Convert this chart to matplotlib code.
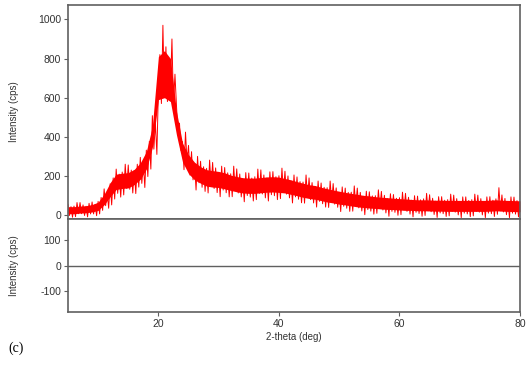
import numpy as np
import matplotlib.pyplot as plt

# шаг 0.25 градуса, от 5 до 80
theta_start = 5.0
theta_step = 0.25

# интенсивность (cps), по 4 значения на градус
intensity = [
    55, -2, 43, -11,      # 5
    46, -8, 64, 7,        # 6
    64, 7, 52, -2,        # 7
    45, -9, 60, 6,        # 8
    67, 6, 54, -3,        # 9
    70, 6, 90, 24,        # 10
    134, 48, 116, 35,     # 11
    160, 52, 190, 82,     # 12
    235, 111, 209, 92,    # 13
    220, 103, 260, 136,   # 14
    256, 132, 230, 113,   # 15
    228, 110, 260, 143,   # 16
    295, 162, 267, 141,   # 17
    332, 197, 377, 235,   # 18
    508, 337, 472, 310,   # 19
    640, 820, 570, 970,   # 20
    600, 860, 580, 800,   # 21
    650, 900, 560, 720,   # 22
    560, 420, 470, 330,   # 23
    376, 232, 424, 272,   # 24
    356, 204, 324, 180,   # 25
    262, 128, 300, 165,   # 26
    275, 142, 247, 121,   # 27
    239, 113, 281, 148,   # 28
    269, 136, 241, 115,   # 29
    216, 94, 250, 128,    # 30
    243, 114, 216, 93,    # 31
    211, 94, 250, 126,    # 32
    236, 113, 210, 93,    # 33
    185, 68, 217, 100,    # 34
    215, 92, 189, 72,     # 35
    196, 79, 235, 111,    # 36
    231, 108, 205, 88,    # 37
    189, 72, 221, 104,    # 38
    222, 99, 196, 79,     # 39
    201, 84, 240, 116,    # 40
    224, 107, 200, 88,    # 41
    174, 62, 205, 93,     # 42
    195, 81, 171, 63,     # 43
    169, 61, 205, 91,     # 44
    190, 79, 166, 62,     # 45
    145, 41, 174, 70,     # 46
    164, 58, 142, 41,     # 47
    140, 39, 174, 67,     # 48
    161, 56, 139, 40,     # 49
    116, 18, 144, 45,     # 50
    138, 35, 116, 19,     # 51
    117, 20, 149, 47,     # 52
    138, 37, 116, 21,     # 53
    96, 2, 122, 28,       # 54
    119, 20, 98, 5,       # 55
    99, 9, 129, 34,       # 56
    121, 26, 101, 11,     # 57
    84, -6, 109, 19,      # 58
    105, 14, 86, -1,      # 59
    89, 2, 117, 26,       # 60
    111, 19, 91, 5,       # 61
    76, -9, 99, 14,       # 62
    97, 8, 78, -6,        # 63
    83, -2, 111, 22,      # 64
    104, 17, 86, 3,       # 65
    71, -12, 94, 11,      # 66
    94, 7, 76, -7,        # 67
    79, -4, 107, 19,      # 68
    102, 15, 84, 1,       # 69
    70, -13, 93, 10,      # 70
    93, 6, 75, -8,        # 71
    79, -4, 107, 19,      # 72
    102, 15, 84, 1,       # 73
    70, -13, 93, 10,      # 74
    94, 7, 76, -7,        # 75
    83, 4, 140, 22,       # 76
    103, 16, 85, 2,       # 77
    70, -13, 93, 10,      # 78
    92, 5, 74, -9,        # 79
    45,                   # 80
]

# плотная часть шума: нижняя и верхняя граница, по целым градусам 5..80
core_degrees = list(range(5, 81))
core_low = [7, 7, 10, 12, 16, 24, 53, 94, 131, 136,
            139, 156, 183, 235, 346, 590, 600, 580, 410, 272,
            212, 180, 163, 148, 143, 141, 134, 126, 119, 113,
            111, 111, 114, 117, 118, 116, 113, 106, 99, 91,
            85, 81, 74, 67, 62, 56, 52, 47, 42, 39,
            36, 34, 31, 29, 28, 26, 24, 24, 22, 22,
            21, 20, 20, 19, 19, 19, 19, 19, 19, 19,
            20, 22, 20, 19, 18, 17]
core_high = [43, 43, 46, 48, 54, 66, 107, 166, 209, 214,
             217, 234, 267, 325, 454, 810, 840, 800, 530, 368,
             308, 270, 247, 232, 227, 223, 216, 204, 197, 191,
             189, 189, 192, 195, 196, 194, 187, 180, 171, 163,
             155, 151, 142, 135, 128, 122, 116, 111, 106, 101,
             98, 94, 91, 89, 86, 84, 82, 80, 78, 78,
             77, 76, 76, 75, 75, 75, 75, 75, 75, 75,
             76, 78, 76, 75, 74, 73]

two_theta = theta_start + theta_step * np.arange(len(intensity))

top_ticks = [0, 200, 400, 600, 800, 1000]
bottom_ticks = [-100, 0, 100]
x_ticks = [20, 40, 60, 80]

plt.rcParams['font.family'] = ['Liberation Sans', 'DejaVu Sans']
plt.rcParams['axes.unicode_minus'] = False

spine_color = '#606060'
fig = plt.figure(figsize=(5.29, 3.65), dpi=100)
ax1 = fig.add_axes([0.1285, 0.4, 0.8545, 0.586])
ax2 = fig.add_axes([0.1285, 0.145, 0.8545, 0.255], sharex=ax1)

ax1.fill_between(core_degrees, core_low, core_high, color='#ff0000', linewidth=0)
ax1.plot(two_theta, intensity, color='#ff0000', linewidth=0.7)
ax1.set_xlim(5, 80)
ax1.set_ylim(-20, 1073)
ax1.set_yticks(top_ticks)
ax1.tick_params(axis='x', bottom=False, labelbottom=False)

ax2.axhline(0, color=spine_color, linewidth=1.0)
ax2.set_ylim(-181, 183)
ax2.set_yticks(bottom_ticks)
ax2.set_xticks(x_ticks)
ax2.set_xlabel('2-theta (deg)', fontsize=7, color='#333333', labelpad=2)

for ax in (ax1, ax2):
    for s in ax.spines.values():
        s.set_color(spine_color)
        s.set_linewidth(1.2)
    ax.tick_params(direction='out', length=3, width=0.8, colors=spine_color,
                   labelcolor='#333333', labelsize=7.5, pad=2)
    ax.set_ylabel('Intensity (cps)', fontsize=7, color='#333333')
    ax.yaxis.set_label_coords(-0.108, 0.5)

fig.text(0.015, 0.035, '(c)', fontsize=10, family='Liberation Serif')

plt.savefig('out.png', dpi=100)
